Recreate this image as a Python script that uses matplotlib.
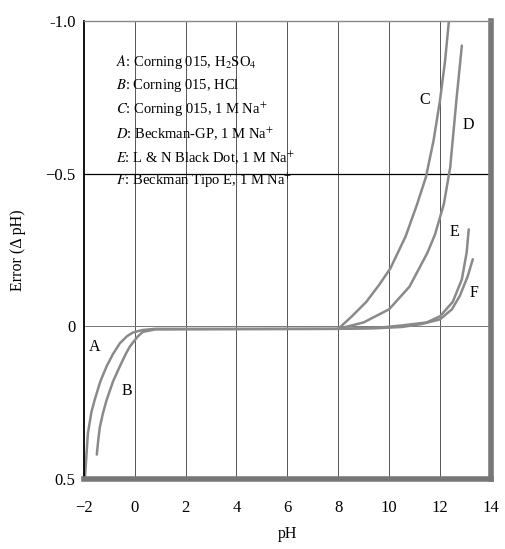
import matplotlib
matplotlib.use('Agg')
import matplotlib.pyplot as plt

plt.rcParams['font.family'] = ['Liberation Serif', 'DejaVu Serif']
plt.rcParams['mathtext.fontset'] = 'stix'

# curves (pH, error)
ph_a = [-1.95, -1.92, -1.84, -1.7, -1.57, -1.35, -1.1, -0.85, -0.58, -0.3, -0.07, 0.3, 0.8, 8.0]
err_a = [0.49, 0.45, 0.35, 0.28, 0.24, 0.18, 0.13, 0.09, 0.055, 0.032, 0.02, 0.012, 0.008, 0.008]
ph_b = [-1.49, -1.43, -1.37, -1.25, -1.1, -0.85, -0.58, -0.35, -0.19, 0.12, 0.32, 0.8, 8.0]
err_b = [0.42, 0.37, 0.33, 0.285, 0.24, 0.18, 0.13, 0.09, 0.066, 0.033, 0.018, 0.01, 0.008]
ph_c = [8.0, 8.5, 9.1, 9.6, 10.05, 10.65, 11.1, 11.45, 11.75, 12.0, 12.2, 12.35]
err_c = [0.008, -0.03, -0.08, -0.135, -0.19, -0.295, -0.4, -0.49, -0.61, -0.74, -0.87, -1.0]
ph_d = [8.0, 9.0, 10.0, 10.8, 11.5, 11.8, 12.15, 12.4, 12.65, 12.86]
err_d = [0.008, -0.013, -0.056, -0.13, -0.24, -0.3, -0.4, -0.52, -0.745, -0.92]
ph_e = [8.0, 9.5, 10.5, 11.48, 12.0, 12.5, 12.86, 13.05, 13.13]
err_e = [0.008, 0.005, -0.003, -0.013, -0.033, -0.08, -0.154, -0.243, -0.318]
ph_f = [8.0, 9.5, 10.5, 11.3, 12.0, 12.47, 12.78, 13.09, 13.29]
err_f = [0.008, 0.006, 0.002, -0.008, -0.023, -0.056, -0.1, -0.164, -0.22]

letters = ['A', 'B', 'C', 'D', 'E', 'F']
label_ph = [-1.57, -0.31, 11.4, 13.1, 12.58, 13.33]
label_err = [0.066, 0.213, -0.74, -0.66, -0.31, -0.11]

legend_lines = [
    r'$\mathit{A}$: Corning 015, H$_2$SO$_4$',
    r'$\mathit{B}$: Corning 015, HCl',
    r'$\mathit{C}$: Corning 015, 1 M Na$^{+}$',
    r'$\mathit{D}$: Beckman-GP, 1 M Na$^{+}$',
    r'$\mathit{E}$: L & N Black Dot, 1 M Na$^{+}$',
    r'$\mathit{F}$: Beckman Tipo E, 1 M Na$^{+}$',
]

xticks = [-2, 0, 2, 4, 6, 8, 10, 12, 14]
xtick_labels = ['\u22122', '0', '2', '4', '6', '8', '10', '12', '14']
yticks = [-1.0, -0.5, 0, 0.5]
ytick_labels = ['-1.0', '\u22120.5', '0', '0.5']

fig = plt.figure(figsize=(5.05, 5.49), dpi=100)
ax = fig.add_axes([0.166, 0.1275, 0.806, 0.834])

# grid
for x in xticks[1:-1]:
    ax.axvline(x, color='#555555', lw=0.7, zorder=1)
ax.axhline(-0.5, color='black', lw=0.9, zorder=1)
ax.axhline(0, color='#777777', lw=0.7, zorder=1)

curves = [(ph_a, err_a), (ph_b, err_b), (ph_c, err_c),
          (ph_d, err_d), (ph_e, err_e), (ph_f, err_f)]
for xs, ys in curves:
    ax.plot(xs, ys, color='#8a8a8a', lw=1.8, solid_capstyle='round',
            solid_joinstyle='round', zorder=2)

for name, x, y in zip(letters, label_ph, label_err):
    ax.text(x, y, name, fontsize=11.5, ha='center', va='center', zorder=3)

for i, line in enumerate(legend_lines):
    ax.text(-0.72, -0.866 + i * 0.078, line, fontsize=10.5, ha='left', va='center', zorder=3)

ax.set_xlim(-2, 14)
ax.set_ylim(0.5, -1.0)
ax.set_xticks(xticks)
ax.set_xticklabels(xtick_labels)
ax.set_yticks(yticks)
ax.set_yticklabels(ytick_labels)
ax.tick_params(length=0, labelsize=12)
ax.tick_params(axis='x', pad=15)
ax.tick_params(axis='y', pad=6)
ax.set_xlabel('pH', fontsize=11.5, labelpad=7)
ax.set_ylabel('Error (\u0394 pH)', fontsize=11.5, labelpad=14)

ax.spines['left'].set_color('black')
ax.spines['left'].set_linewidth(1.3)
ax.spines['top'].set_color('#888888')
ax.spines['top'].set_linewidth(1.0)
ax.spines['right'].set_color('#777777')
ax.spines['right'].set_linewidth(4)
ax.spines['bottom'].set_color('#777777')
ax.spines['bottom'].set_linewidth(4)

fig.savefig('out.png', dpi=100)
